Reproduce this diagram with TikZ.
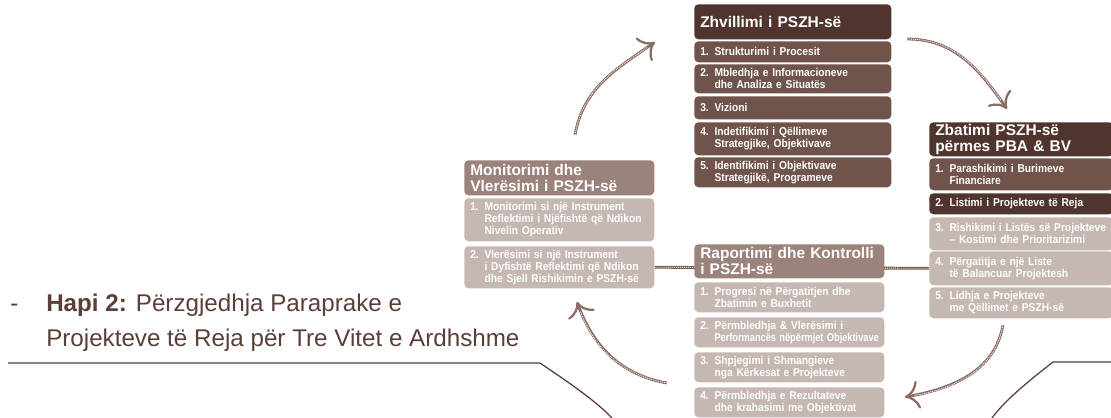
\documentclass[tikz,border=0pt]{standalone}
\usepackage{fontspec}
\usepackage{graphicx}
\setmainfont{Liberation Sans}
\newfontfamily\boxfont[FakeStretch=0.9]{Liberation Sans}
\usetikzlibrary{arrows.meta,backgrounds}

\definecolor{cdark}{RGB}{80,52,46}
\definecolor{cmid}{RGB}{112,84,75}
\definecolor{csoft}{RGB}{155,130,122}
\definecolor{cpale}{RGB}{197,184,178}
\definecolor{ctext}{RGB}{90,62,56}
\definecolor{carrow}{RGB}{138,108,100}

\newcommand{\nohyph}{\hyphenpenalty=10000\relax}
\newcommand{\ind}{\hphantom{1. }}

\tikzset{
  box/.style={rounded corners=3pt, anchor=north west, inner xsep=0.15cm, inner ysep=0pt,
    align=left, text=white, font=\boxfont\bfseries\fontsize{8.1}{8.6}\selectfont,
    execute at begin node=\nohyph},
  hdr/.style={box, font=\bfseries\fontsize{11}{11.5}\selectfont},
  darkbox/.style={fill=cdark},
  midbox/.style={fill=cmid},
  softbox/.style={fill=csoft},
  palebox/.style={fill=cpale},
  zhcol/.style={text width=4.625cm},
  zbcol/.style={text width=4.3cm},
  mocol/.style={text width=4.45cm},
  cyc/.style={line width=2pt, draw=carrow,
    -{Computer Modern Rightarrow[length=10pt,width=20pt,line width=1.6pt]},
    postaction={draw=white, arrows=-, line width=0.6pt, dash pattern=on 0.7pt off 0.7pt, shorten >=7pt}},
  feed/.style={line width=2pt, draw=cmid,
    postaction={draw=white, line width=0.6pt, dash pattern=on 0.7pt off 0.7pt}},
  lead/.style={inner sep=0pt, text=ctext, font=\fontsize{17.2}{25}\selectfont}
}

\begin{document}
\begin{tikzpicture}[x=0.025cm, y=-0.025cm]
\useasboundingbox (0,0) rectangle (1111,418);

% Zhvillimi
\node[hdr, darkbox, zhcol, minimum height=0.875cm] (zh) at (694,4) {Zhvillimi i PSZH-së};
\node[box, midbox, zhcol, minimum height=0.525cm] (zh1) at (694,41) {1. Strukturimi i Procesit};
\node[box, midbox, zhcol, minimum height=0.725cm] (zh2) at (694,64) {2. Mbledhja e Informacioneve\\\ind dhe Analiza e Situatës};
\node[box, midbox, zhcol, minimum height=0.575cm] (zh3) at (694,96) {3. Vizioni};
\node[box, midbox, zhcol, minimum height=0.825cm] (zh4) at (694,122) {4. Indetifikimi i  Qëllimeve\\\ind Strategjike, Objektivave};
\node[box, midbox, zhcol, minimum height=0.75cm] (zh5) at (694,157) {5. Identifikimi i  Objektivave\\\ind Strategjikë, Programeve};

% Zbatimi
\node[hdr, darkbox, zbcol, minimum height=0.85cm] (zb) at (929,122) {Zbatimi PSZH-së\\përmes PBA \& BV};
\node[box, midbox, zbcol, minimum height=0.8cm] (zb1) at (929,158) {1. Parashikimi  i Burimeve\\\ind Financiare};
\node[box, darkbox, zbcol, minimum height=0.525cm] (zb2) at (929,193) {2. Listimi i Projekteve të Reja};
\node[box, palebox, zbcol, minimum height=0.825cm] (zb3) at (929,217) {3. Rishikimi i Listës së Projekteve\\\ind – Kostimi dhe Prioritarizimi};
\node[box, palebox, zbcol, minimum height=0.85cm] (zb4) at (929,251) {4. Përgatitja e një Liste\\\ind të Balancuar Projektesh};
\node[box, palebox, zbcol, minimum height=0.775cm] (zb5) at (929,287) {5. Lidhja e Projekteve\\\ind me Qëllimet e PSZH-së};

% Monitorimi
\node[hdr, softbox, mocol, minimum height=0.875cm] (mo) at (464,160) {Monitorimi dhe\\Vlerësimi  i PSZH-së};
\node[box, palebox, mocol, minimum height=1.075cm] (mo1) at (464,198) {1. Monitorimi  si një Instrument\\\ind Reflektimi i Njëfishtë që Ndikon\\\ind Nivelin Operativ};
\node[box, palebox, mocol, minimum height=1.05cm] (mo2) at (464,246) {2. Vlerësimi si një Instrument\\\ind i Dyfishtë Reflektimi që Ndikon\\\ind dhe Sjell Rishikimin e PSZH-së};

% Raportimi
\node[hdr, softbox, mocol, minimum height=0.85cm] (ra) at (694,244) {Raportimi dhe Kontrolli\\i PSZH-së};
\node[box, palebox, mocol, minimum height=0.75cm] (ra1) at (694,282) {1. Progresi  në Përgatitjen dhe\\\ind Zbatimin e Buxhetit};
\node[box, palebox, mocol, minimum height=0.75cm] (ra2) at (694,317) {2. Përmbledhja \& Vlerësimi i\\\ind \scalebox{0.9}[1]{Performancës nëpërmjet Objektivave}};
\node[box, palebox, mocol, minimum height=0.75cm] (ra3) at (694,352) {3. Shpjegimi i Shmangieve\\\ind nga Kërkesat e Projekteve};
\node[box, palebox, mocol, minimum height=0.75cm] (ra4) at (694,387) {4. Përmbledhja e Rezultateve\\\ind dhe krahasimi me Objektivat};

\begin{scope}[on background layer]
\draw[feed] (mo2.east) -- (zb4.west);
\end{scope}

% cycle arrows
\coordinate (up0) at (575,135);
\coordinate (up1) at (655,42);
\coordinate (rt0) at (907,39);
\coordinate (rt1) at (1007,109);
\coordinate (dn0) at (1003,325);
\coordinate (dn1) at (905,397);
\coordinate (lf0) at (667,383);
\coordinate (lf1) at (577,302);
\draw[cyc] (up0) to[out=80,in=215] (up1);
\draw[cyc] (rt0) to[out=0,in=125] (rt1);
\draw[cyc] (dn0) to[out=-100,in=10] (dn1);
\draw[cyc] (lf0) to[out=170,in=-70] (lf1);

% step text
\node[lead, anchor=base west] (dash) at (10,312) {-};
\node[lead, anchor=north west, align=left] (hapi) at (46,294) {\textbf{Hapi 2:} Përzgjedhja Paraprake e\\Projekteve të Reja për Tre Vitet e Ardhshme};

% slide rule
\draw[ctext, line width=0.9pt] (8,363) -- (540,363) .. controls (565,380) and (595,400) .. (612,418);
\draw[ctext, line width=0.9pt] (1111,362) -- (1053,362) .. controls (1030,380) and (1005,400) .. (992,418);

\end{tikzpicture}
\end{document}
